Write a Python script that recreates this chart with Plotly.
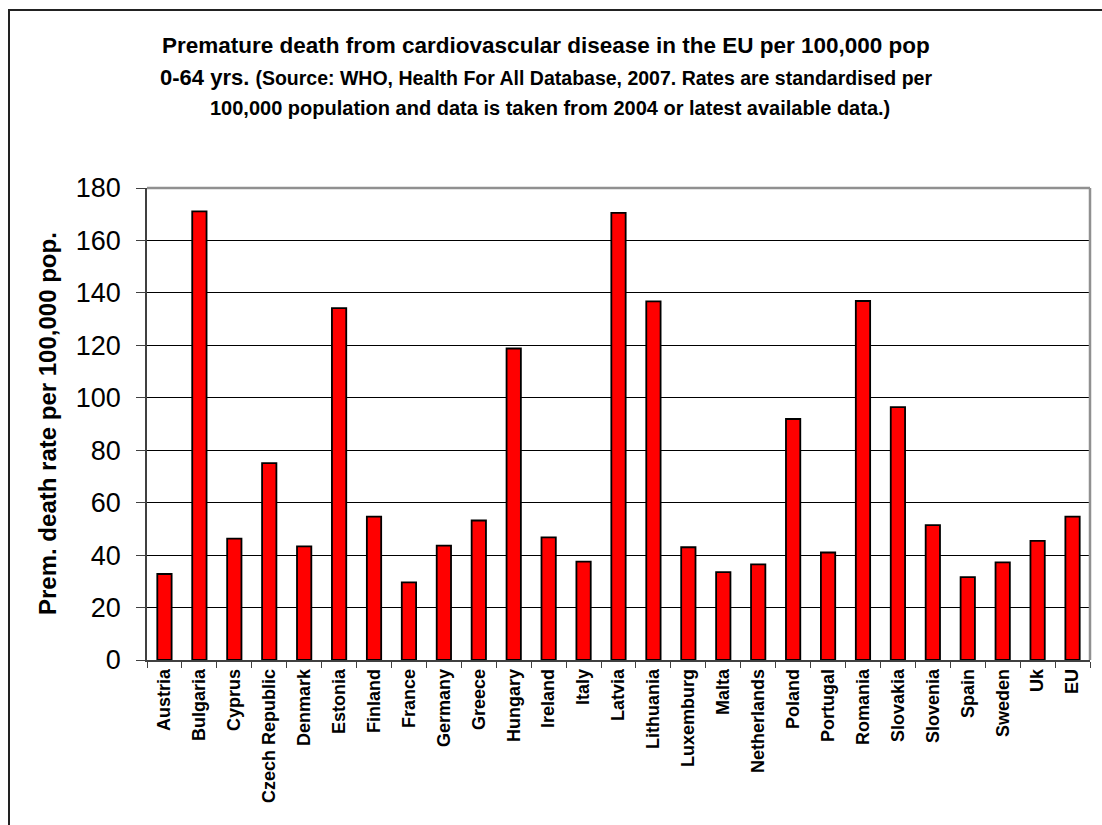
import plotly.graph_objects as go

countries = [
    "Austria", "Bulgaria", "Cyprus", "Czech Republic", "Denmark", "Estonia",
    "Finland", "France", "Germany", "Greece", "Hungary", "Ireland", "Italy",
    "Latvia", "Lithuania", "Luxemburg", "Malta", "Netherlands", "Poland",
    "Portugal", "Romania", "Slovakia", "Slovenia", "Spain", "Sweden", "Uk", "EU",
]
death_rates = [
    32.8, 171.1, 46.3, 75.1, 43.3, 134.2, 54.7, 29.6, 43.6, 53.2, 118.8, 46.8,
    37.5, 170.5, 136.8, 43.0, 33.5, 36.5, 91.9, 41.0, 136.9, 96.4, 51.4, 31.6,
    37.2, 45.4, 54.7,
]
y_ticks = [0, 20, 40, 60, 80, 100, 120, 140, 160, 180]

FONT = "Liberation Sans, Arial, sans-serif"
W, H = 1102, 825
L, R, T, B = 147, 12, 188, 165
PW, PH = W - L - R, H - T - B


def px_x(x):
    return (x - L) / PW


def px_y(y):
    return (H - B - y) / PH


fig = go.Figure(
    go.Bar(
        x=countries,
        y=death_rates,
        marker=dict(color="#FF0000", line=dict(color="#000000", width=1.8)),
        hoverinfo="x+y",
    )
)

fig.update_layout(
    width=W,
    height=H,
    margin=dict(l=L, r=R, t=T, b=B),
    paper_bgcolor="white",
    plot_bgcolor="white",
    bargap=0.59,
    showlegend=False,
    font=dict(family=FONT, color="black"),
)

fig.update_xaxes(
    type="category",
    tickangle=-90,
    tickfont=dict(family=FONT, size=18, color="black", weight="bold"),
    ticks="outside",
    tickson="boundaries",
    ticklen=6,
    tickcolor="#404040",
    showline=True,
    linecolor="#404040",
    linewidth=1.5,
    showgrid=False,
)

fig.update_yaxes(
    range=[0, 180],
    tickvals=y_ticks,
    tickfont=dict(family=FONT, size=27, color="black"),
    ticks="outside",
    ticklen=9,
    tickcolor="#404040",
    ticklabelstandoff=10,
    showline=True,
    linecolor="#404040",
    linewidth=1.5,
    showgrid=True,
    gridcolor="#000000",
    gridwidth=1,
    zeroline=False,
)

shapes = [
    # plot-area frame (top and right edges)
    dict(type="line", xref="paper", yref="paper", x0=0, x1=1, y0=1, y1=1,
         line=dict(color="#909090", width=2.5)),
    dict(type="line", xref="paper", yref="paper", x0=1, x1=1, y0=0, y1=1,
         line=dict(color="#909090", width=2.5)),
    # outer chart border
    dict(type="rect", xref="paper", yref="paper",
         x0=px_x(9), x1=px_x(W + 20), y0=px_y(H + 20), y1=px_y(10),
         line=dict(color="#222222", width=2), layer="below"),
]
fig.update_layout(shapes=shapes)

title_x = px_x(546)
annotations = [
    dict(text="<b>Premature death from cardiovascular disease in the EU per 100,000 pop</b>",
         x=title_x, y=px_y(46), font=dict(size=22.5)),
    dict(text="<b>0-64 yrs. <span style='font-size:19.5px'>(Source: WHO, Health For All Database, 2007. "
              "Rates are standardised per</span></b>",
         x=title_x, y=px_y(78), font=dict(size=22)),
    dict(text="<b>100,000 population and data is taken from 2004 or latest available data.)</b>",
         x=px_x(550), y=px_y(108), font=dict(size=20)),
    dict(text="<b>Prem. death rate per 100,000 pop.</b>", textangle=-90,
         x=px_x(47), y=0.5, font=dict(size=24)),
]
for a in annotations:
    a.update(xref="paper", yref="paper", showarrow=False,
             xanchor="center", yanchor="middle")
    a["font"].update(family=FONT, color="black")
fig.update_layout(annotations=annotations)

fig.write_html("out.html")
